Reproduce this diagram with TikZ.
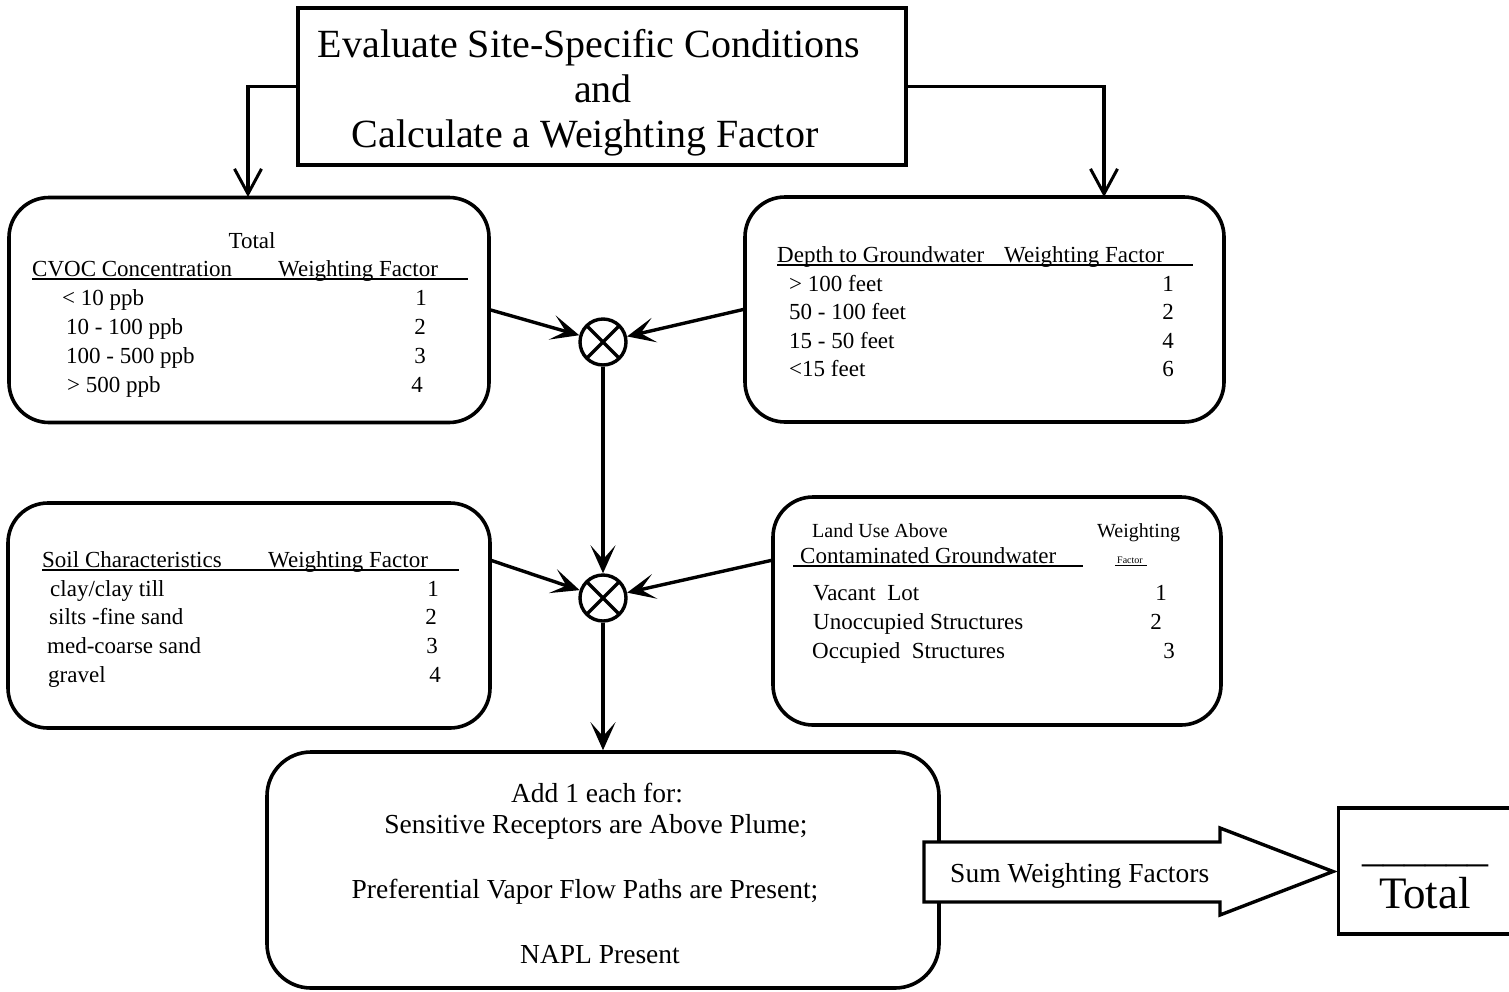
\documentclass[tikz,border=0pt]{standalone}
\usepackage{fontspec}
\setmainfont{Liberation Serif}
\usetikzlibrary{arrows.meta}
\begin{document}
\begin{tikzpicture}[x=1pt,y=-1pt,
  rbox/.style={draw, line width=3.6pt, rounded corners=40pt, inner sep=0pt},
  sqbox/.style={draw, line width=3.4pt, inner sep=0pt},
  xcirc/.style={circle, draw, line width=3.4pt, minimum size=46pt, inner sep=0pt,
    path picture={\draw[line width=3.4pt] (path picture bounding box.north west) -- (path picture bounding box.south east)
      (path picture bounding box.north east) -- (path picture bounding box.south west);}},
  conn/.style={line width=3.4pt},
  barb/.style={-{Straight Barb[length=25pt,width=27pt,line width=3pt]}},
  stl/.style={-{Stealth[length=28pt,width=25pt,inset=14pt]}},
  tt/.style={inner sep=0pt, font=\fontsize{23}{28}\selectfont},
  ts/.style={inner sep=0pt, font=\fontsize{20}{24}\selectfont},
  tb/.style={inner sep=0pt, font=\fontsize{27.5}{32}\selectfont},
  th/.style={inner sep=0pt, font=\fontsize{40}{45}\selectfont},
  uline/.style={line width=1.7pt}
]
\fill[white] (0,0) rectangle (1509,991);
\useasboundingbox (0,0) rectangle (1509,991);

% ---- boxes
\node[sqbox, minimum width=608pt, minimum height=157pt] (top) at (602,86.5) {};
\node[rbox, minimum width=480pt, minimum height=225pt] (cvoc) at (249,310) {};
\node[rbox, minimum width=479pt, minimum height=225pt] (depth) at (984.5,309.5) {};
\node[rbox, minimum width=482pt, minimum height=225pt] (soil) at (249,615.5) {};
\node[rbox, minimum width=448pt, minimum height=228pt] (land) at (997,611) {};
\node[rbox, rounded corners=44pt, minimum width=672pt, minimum height=236pt] (add) at (603,870) {};
\node[sqbox, minimum width=185pt, minimum height=126pt, anchor=west] (tot) at (1337,871) {};

\node[xcirc] (c1) at (603,342) {};
\node[xcirc] (c2) at (603,598) {};

% ---- top text
\node[th, anchor=base] (h1) at (589,57) {Evaluate Site-Specific Conditions};
\node[th, anchor=base] (h2) at (603,102) {and};
\node[th, anchor=base] (h3) at (585,147) {Calculate a Weighting Factor};

% ---- CVOC box
\node[tt, anchor=base] (a0) at (252,248) {Total};
\node[tt, anchor=base west] (a1) at (32,276) {CVOC Concentration};
\node[tt, anchor=base west] (a2) at (278,276) {Weighting Factor};
\draw[uline] (32,279) -- (468,279);
\node[tt, anchor=base west] (a3) at (62,305) {< 10 ppb};
\node[tt, anchor=base west] (a4) at (66,334) {10 - 100 ppb};
\node[tt, anchor=base west] (a5) at (66,363) {100 - 500 ppb};
\node[tt, anchor=base west] (a6) at (67,392) {> 500 ppb};
\node[tt, anchor=base east] (a7) at (427,305) {1};
\node[tt, anchor=base east] (a8) at (426,334) {2};
\node[tt, anchor=base east] (a9) at (426,363) {3};
\node[tt, anchor=base east] (a10) at (423,392) {4};

% ---- Depth box
\node[tt, anchor=base west] (b1) at (777,262) {Depth to Groundwater};
\node[tt, anchor=base west] (b2) at (1004,262) {Weighting Factor};
\draw[uline] (777,265) -- (1193,265);
\node[tt, anchor=base west] (b3) at (789,291) {> 100 feet};
\node[tt, anchor=base west] (b4) at (789,319) {50 - 100 feet};
\node[tt, anchor=base west] (b5) at (789,348) {15 - 50 feet};
\node[tt, anchor=base west] (b6) at (789,376) {<15 feet};
\node[tt, anchor=base east] (b7) at (1174,291) {1};
\node[tt, anchor=base east] (b8) at (1174,319) {2};
\node[tt, anchor=base east] (b9) at (1174,348) {4};
\node[tt, anchor=base east] (b10) at (1174,376) {6};

% ---- Soil box
\node[tt, anchor=base west] (s1) at (42,567) {Soil Characteristics};
\node[tt, anchor=base west] (s2) at (268,567) {Weighting Factor};
\draw[uline] (42,570) -- (459,570);
\node[tt, anchor=base west] (s3) at (50,596) {clay/clay till};
\node[tt, anchor=base west] (s4) at (49,624) {silts -fine sand};
\node[tt, anchor=base west] (s5) at (47,653) {med-coarse sand};
\node[tt, anchor=base west] (s6) at (48,682) {gravel};
\node[tt, anchor=base east] (s7) at (439,596) {1};
\node[tt, anchor=base east] (s8) at (437,624) {2};
\node[tt, anchor=base east] (s9) at (438,653) {3};
\node[tt, anchor=base east] (s10) at (441,682) {4};

% ---- Land use box
\node[ts, anchor=base west] (l1) at (812,537) {Land Use Above};
\node[ts, anchor=base west] (l2) at (1097,537) {Weighting};
\node[tt, anchor=base west] (l3) at (800,563) {Contaminated Groundwater};
\draw[uline] (793,566) -- (1083,566);
\node[inner sep=0pt, font=\fontsize{10}{12}\selectfont, anchor=base west] (l4) at (1117,563) {Factor};
\draw[line width=1pt] (1115,565) -- (1147,565);
\node[tt, anchor=base west] (l5) at (813,600) {Vacant\ \ Lot};
\node[tt, anchor=base west] (l6) at (813,629) {Unoccupied Structures};
\node[tt, anchor=base west] (l7) at (812,658) {Occupied\ \ Structures};
\node[tt, anchor=base east] (l8) at (1167,600) {1};
\node[tt, anchor=base east] (l9) at (1162,629) {2};
\node[tt, anchor=base east] (l10) at (1175,658) {3};

% ---- bottom box text
\node[tb, anchor=base] (d1) at (597,802) {Add 1 each for:};
\node[tb, anchor=base] (d2) at (596,833) {Sensitive Receptors are Above Plume;};
\node[tb, anchor=base] (d3) at (585,898) {Preferential Vapor Flow Paths are Present;};
\node[tb, anchor=base] (d4) at (600,963) {NAPL Present};

% ---- big arrow
\draw[line width=3.4pt, fill=white, line join=miter] (924,842) -- (1220,842) -- (1220,828) -- (1333,871.5) -- (1220,915) -- (1220,902) -- (924,902) -- cycle;
\node[tb, anchor=base west] (sum) at (950,882) {Sum Weighting Factors};

% ---- total box text
\node[inner sep=0pt, font=\fontsize{42}{46}\selectfont, anchor=base] (blank) at (1425,861) {\_\_\_\_\_\_};
\node[inner sep=0pt, font=\fontsize{45}{50}\selectfont, anchor=base] (totl) at (1425,908) {Total};

% ---- connectors
\coordinate (tl) at (248,197);
\coordinate (tr) at (1104,197);
\coordinate (sl) at (490,560);
\coordinate (sr) at (773,560);
\draw[conn, barb] (top.west) -| (tl);
\draw[conn, barb] (top.east) -| (tr);
\draw[conn, stl] (cvoc.east) -- (c1);
\draw[conn, stl] (depth.west) -- (c1);
\draw[conn, stl] (c1) -- (c2);
\draw[conn, stl] (sl) -- (c2);
\draw[conn, stl] (sr) -- (c2);
\draw[conn, stl] (c2) -- (add.north);
\end{tikzpicture}
\end{document}
